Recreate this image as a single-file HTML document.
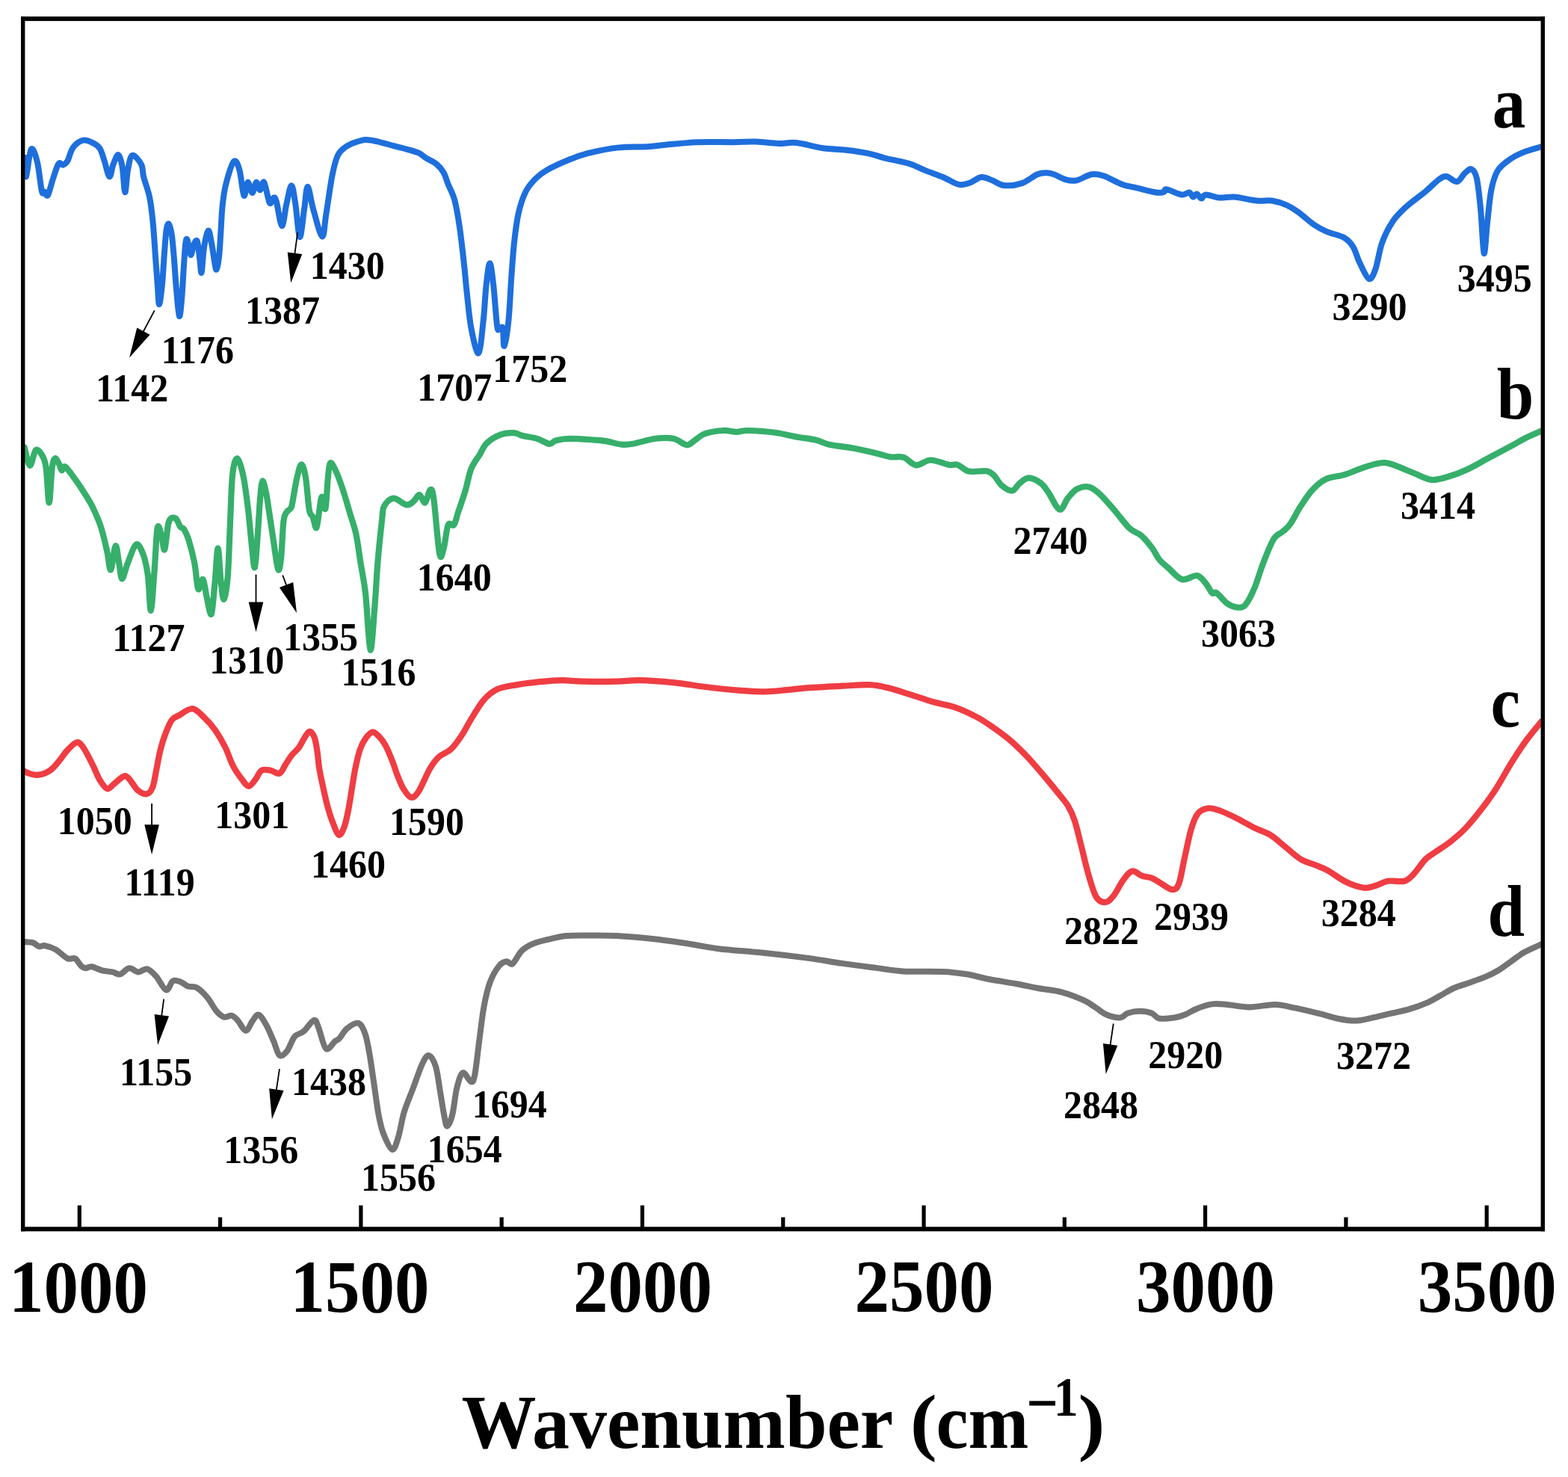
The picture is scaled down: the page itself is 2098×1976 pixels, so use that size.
<!DOCTYPE html>
<html><head><meta charset="utf-8"><title>FTIR spectra</title>
<style>html,body{margin:0;padding:0;background:#fff;}svg{display:block;}</style></head>
<body>
<svg width="2098" height="1976" viewBox="0 0 2098 1976">
<rect width="2098" height="1976" fill="#fff"/>
<path d="M33.5,210.9 C33.75,215.13 33.63,238.18 35,236.3 C36.37,234.42 39.22,202.85 41.7,199.6 C44.18,196.35 47.53,207.45 49.9,216.8 C52.27,226.15 54.28,249.08 55.9,255.7 C57.52,262.32 58.23,255.62 59.6,256.5 C60.97,257.38 62.22,263.87 64.1,261 C65.98,258.13 68.53,246.28 70.9,239.3 C73.27,232.32 76.07,222.22 78.3,219.1 C80.53,215.98 82.3,221.23 84.3,220.6 C86.3,219.97 88.05,219.17 90.3,215.3 C92.55,211.43 94.32,202 97.8,197.4 C101.28,192.8 106.72,188.7 111.2,187.7 C115.68,186.7 120.95,189.53 124.7,191.4 C128.45,193.27 131.2,194.92 133.7,198.9 C136.2,202.88 137.58,209.07 139.7,215.3 C141.82,221.53 144.42,235.55 146.4,236.3 C148.38,237.05 149.62,224.67 151.6,219.8 C153.58,214.93 156.3,206.6 158.3,207.1 C160.3,207.6 162.1,214.45 163.6,222.8 C165.1,231.15 166.05,256.45 167.3,257.2 C168.55,257.95 169.48,235.52 171.1,227.3 C172.72,219.08 174.02,209.15 177,207.9 C179.98,206.65 186.47,215 189,219.8 C191.53,224.6 190.35,229.38 192.2,236.7 C194.05,244.02 198.03,253.6 200.1,263.7 C202.17,273.8 203.3,284.22 204.6,297.3 C205.9,310.38 206.87,328.18 207.9,342.2 C208.93,356.22 209.95,370.57 210.8,381.4 C211.65,392.23 211.98,407.2 213,407.2 C214.02,407.2 215.78,392.23 216.9,381.4 C218.02,370.57 218.77,354.35 219.7,342.2 C220.63,330.05 221.47,315.6 222.5,308.5 C223.53,301.4 224.68,298.67 225.9,299.6 C227.12,300.53 228.68,307 229.8,314.1 C230.92,321.2 231.57,330.03 232.6,342.2 C233.63,354.37 234.78,373.63 236,387.1 C237.22,400.57 238.68,421.13 239.9,423 C241.12,424.87 242.27,409.9 243.3,398.3 C244.33,386.7 245.27,365.55 246.1,353.4 C246.93,341.25 247.55,330.82 248.3,325.4 C249.05,319.98 249.47,318.28 250.6,320.9 C251.73,323.52 253.6,340.17 255.1,341.1 C256.6,342.03 258.12,329.5 259.6,326.5 C261.08,323.5 262.7,319.55 264,323.1 C265.3,326.65 266.45,340.88 267.4,347.8 C268.35,354.72 268.77,367.4 269.7,364.6 C270.63,361.8 271.52,340.35 273,331 C274.48,321.65 276.92,309.43 278.6,308.5 C280.28,307.57 281.6,317.92 283.1,325.4 C284.6,332.88 286.48,347.62 287.6,353.4 C288.72,359.18 288.87,361.97 289.8,360.1 C290.73,358.23 292.25,350.8 293.2,342.2 C294.15,333.6 294.75,319.72 295.5,308.5 C296.25,297.28 296.58,285.18 297.7,274.9 C298.82,264.62 299.67,256.6 302.2,246.8 C304.73,237 309.87,219.35 312.9,216.1 C315.93,212.85 318.15,219.7 320.4,227.3 C322.65,234.9 324.53,258.95 326.4,261.7 C328.27,264.45 329.73,244.42 331.6,243.8 C333.47,243.18 335.73,258 337.6,258 C339.47,258 341.07,244.43 342.8,243.8 C344.53,243.17 346.25,254.2 348,254.2 C349.75,254.2 351.17,240.93 353.3,243.8 C355.43,246.67 358.68,267.92 360.8,271.4 C362.92,274.88 364.52,265.07 366,264.7 C367.48,264.33 367.83,262.97 369.7,269.2 C371.57,275.43 374.95,301.35 377.2,302.1 C379.45,302.85 381.08,282.68 383.2,273.7 C385.32,264.72 387.9,248.45 389.9,248.2 C391.9,247.95 393.33,260.73 395.2,272.2 C397.07,283.67 399.12,315.75 401.1,317 C403.08,318.25 405.35,290.92 407.1,279.7 C408.85,268.48 409.6,249.7 411.6,249.7 C413.6,249.7 415.87,268.6 419.1,279.7 C422.33,290.8 428.13,315.07 431,316.3 C433.87,317.53 434.05,300.68 436.3,287.1 C438.55,273.52 441.88,248 444.5,234.8 C447.12,221.6 449,214.27 452,207.9 C455,201.53 458.77,199.47 462.5,196.6 C466.23,193.73 469.92,192.32 474.4,190.7 C478.88,189.08 484.4,187.15 489.4,186.9 C494.4,186.65 498.17,187.83 504.4,189.2 C510.63,190.57 520.87,193.55 526.8,195.1 C532.73,196.65 534.6,196.98 540,198.5 C545.4,200.02 554.07,201.97 559.2,204.2 C564.33,206.43 566.63,209.33 570.8,211.9 C574.97,214.47 580.37,216.38 584.2,219.6 C588.03,222.82 591.23,226.72 593.8,231.2 C596.37,235.68 597.18,240.42 599.6,246.5 C602.02,252.58 605.73,258.08 608.3,267.7 C610.87,277.32 612.92,290.1 615,304.2 C617.08,318.3 619.2,337.87 620.8,352.3 C622.4,366.73 623,376.38 624.6,390.8 C626.2,405.22 627.8,425.18 630.4,438.8 C633,452.42 637.48,474.1 640.2,472.5 C642.92,470.9 644.97,444.42 646.7,429.2 C648.43,413.98 649.15,394.02 650.6,381.2 C652.05,368.38 653.8,352.3 655.4,352.3 C657,352.3 658.6,367.42 660.2,381.2 C661.8,394.98 663.72,425.07 665,435 C666.28,444.93 666.62,440.17 667.9,440.8 C669.18,441.43 671.58,435.12 672.7,438.8 C673.82,442.48 673.32,464.5 674.6,462.9 C675.88,461.3 678.8,444.43 680.4,429.2 C682,413.97 682.92,389.12 684.2,371.5 C685.48,353.88 686.5,337.92 688.1,323.5 C689.7,309.08 691.23,296.22 693.8,285 C696.37,273.78 699.65,263.9 703.5,256.2 C707.35,248.5 712.1,243.62 716.9,238.8 C721.7,233.98 724.92,231.47 732.3,227.3 C739.68,223.13 752.22,217.48 761.2,213.8 C770.18,210.12 776.72,207.73 786.2,205.2 C795.68,202.67 809.77,200 818.1,198.6 C826.43,197.2 828.15,197.2 836.2,196.8 C844.25,196.4 857.35,196.7 866.4,196.2 C875.45,195.7 879.43,194.8 890.5,193.8 C901.57,192.8 917.7,190.8 932.8,190.2 C947.9,189.6 968.02,190.3 981.1,190.2 C994.18,190.1 1001.23,189.3 1011.3,189.6 C1021.37,189.9 1032.45,191.75 1041.5,192 C1050.55,192.25 1055.55,190.05 1065.6,191.1 C1075.65,192.15 1090.73,196.7 1101.8,198.3 C1112.87,199.9 1121.93,199.53 1132,200.7 C1142.07,201.87 1153.65,203.53 1162.2,205.3 C1170.75,207.07 1174.25,209.03 1183.3,211.3 C1192.35,213.57 1207.43,216.13 1216.5,218.9 C1225.57,221.67 1230.15,224.88 1237.7,227.9 C1245.25,230.92 1254.25,233.83 1261.8,237 C1269.35,240.17 1276.97,245.65 1283,246.9 C1289.03,248.15 1292.98,246.15 1298,244.5 C1303.02,242.85 1308.07,237.5 1313.1,237 C1318.13,236.5 1323.17,239.65 1328.2,241.5 C1333.23,243.35 1336.75,247.5 1343.3,248.1 C1349.85,248.7 1360.05,247.57 1367.5,245.1 C1374.95,242.63 1382.57,235.6 1388,233.3 C1393.43,231 1396.4,231.3 1400.1,231.3 C1403.8,231.3 1405.83,231.78 1410.2,233.3 C1414.57,234.82 1421.27,239.05 1426.3,240.4 C1431.33,241.75 1434.7,242.58 1440.4,241.4 C1446.1,240.22 1454.47,234.32 1460.5,233.3 C1466.53,232.28 1469.9,233.12 1476.6,235.3 C1483.3,237.48 1493.33,243.72 1500.7,246.4 C1508.07,249.08 1513.08,249.55 1520.8,251.4 C1528.52,253.25 1540.95,256.58 1547,257.5 C1553.05,258.42 1554.75,257.58 1557.1,256.9 C1559.45,256.22 1557.08,252.8 1561.1,253.4 C1565.12,254 1576.17,259.82 1581.2,260.5 C1586.23,261.18 1588.78,257 1591.3,257.5 C1593.82,258 1594.63,263.17 1596.3,263.5 C1597.97,263.83 1599.45,259.17 1601.3,259.5 C1603.15,259.83 1605.38,265.33 1607.4,265.5 C1609.42,265.67 1609.38,260.67 1613.4,260.5 C1617.42,260.33 1625.13,264 1631.5,264.5 C1637.87,265 1643.22,262.83 1651.6,263.5 C1659.98,264.17 1673.42,267.67 1681.8,268.5 C1690.18,269.33 1695.2,267.48 1701.9,268.5 C1708.6,269.52 1715.97,271.92 1722,274.6 C1728.03,277.28 1732.17,280.33 1738.1,284.6 C1744.03,288.87 1751.42,295.98 1757.6,300.2 C1763.78,304.42 1768.45,306.97 1775.2,309.9 C1781.95,312.83 1792.23,314.43 1798.1,317.8 C1803.97,321.17 1806.88,324.52 1810.4,330.1 C1813.92,335.68 1815.67,344.15 1819.2,351.3 C1822.73,358.45 1828.07,371.53 1831.6,373 C1835.13,374.47 1837.47,368.12 1840.4,360.1 C1843.33,352.08 1845.4,335.47 1849.2,324.9 C1853,314.33 1857.93,304.63 1863.2,296.7 C1868.47,288.77 1873.45,284.05 1880.8,277.3 C1888.15,270.55 1899.95,262.35 1907.3,256.2 C1914.65,250.05 1920.22,243.77 1924.9,240.4 C1929.58,237.03 1931.3,235.57 1935.4,236 C1939.5,236.43 1945.38,243.75 1949.5,243 C1953.62,242.25 1956.87,234.28 1960.1,231.5 C1963.33,228.72 1966.27,225.12 1968.9,226.3 C1971.53,227.48 1973.85,229.52 1975.9,238.6 C1977.95,247.68 1979.58,264.07 1981.2,280.8 C1982.82,297.53 1984.13,336.05 1985.6,339 C1987.07,341.95 1988.38,312.6 1990,298.5 C1991.62,284.4 1992.95,266.15 1995.3,254.4 C1997.65,242.65 1999.7,235.03 2004.1,228 C2008.5,220.97 2015.83,216.3 2021.7,212.2 C2027.57,208.1 2032.55,206.05 2039.3,203.4 C2046.05,200.75 2058.38,197.48 2062.2,196.3" fill="none" stroke="#1e6fdc" stroke-width="8.0" stroke-linejoin="round" stroke-linecap="round"/>
<path d="M32.8,598.8 C34,602.82 37.47,622.35 40,622.9 C42.53,623.45 45.18,604.23 48,602.1 C50.82,599.97 54.62,606.1 56.9,610.1 C59.18,614.1 60.23,615.68 61.7,626.1 C63.17,636.52 64.37,672.6 65.7,672.6 C67.03,672.6 68.37,635.98 69.7,626.1 C71.03,616.22 72.1,614.1 73.7,613.3 C75.3,612.5 77.83,618.63 79.3,621.3 C80.77,623.97 81.17,628.77 82.5,629.3 C83.83,629.83 84.37,622.63 87.3,624.5 C90.23,626.37 95.82,634.63 100.1,640.5 C104.38,646.37 108.98,653.28 113,659.7 C117.02,666.12 120.47,671.25 124.2,679 C127.93,686.75 132.2,696.32 135.4,706.2 C138.6,716.08 141.27,728.95 143.4,738.3 C145.53,747.65 146.33,763.63 148.2,762.3 C150.07,760.97 152.73,731.63 154.6,730.3 C156.47,728.97 157.93,746.97 159.4,754.3 C160.87,761.63 161.53,774.3 163.4,774.3 C165.27,774.3 167.52,761.9 170.6,754.3 C173.68,746.7 178.42,730.83 181.9,728.7 C185.38,726.57 188.83,734.57 191.5,741.5 C194.17,748.43 196.17,757.75 197.9,770.3 C199.63,782.85 200.43,818.13 201.9,816.8 C203.37,815.47 205.23,780.73 206.7,762.3 C208.17,743.87 209.1,713.68 210.7,706.2 C212.3,698.72 214.7,712.58 216.3,717.4 C217.9,722.22 218.7,738.3 220.3,735.1 C221.9,731.9 223.5,705.15 225.9,698.2 C228.3,691.25 232.15,692.33 234.7,693.4 C237.25,694.47 239.32,702.2 241.2,704.6 C243.08,707 244.13,704.87 246,707.8 C247.87,710.73 250,714.45 252.4,722.2 C254.8,729.95 258.27,743.33 260.4,754.3 C262.53,765.27 263.33,784.53 265.2,788 C267.07,791.47 269.73,773.5 271.6,775.1 C273.47,776.7 274.53,789.85 276.4,797.6 C278.27,805.35 280.93,824.82 282.8,821.6 C284.67,818.38 286.13,792.98 287.6,778.3 C289.07,763.62 290.27,733.5 291.6,733.5 C292.93,733.5 294.27,766.95 295.6,778.3 C296.93,789.65 298.07,802.93 299.6,801.6 C301.13,800.27 303.4,787.53 304.8,770.3 C306.2,753.07 306.93,720.9 308,698.2 C309.07,675.5 309.6,648.25 311.2,634.1 C312.8,619.95 315.2,612.77 317.6,613.3 C320,613.83 323.18,625.82 325.6,637.3 C328.02,648.78 330.22,666.7 332.1,682.2 C333.98,697.7 335.43,717.48 336.9,730.3 C338.37,743.12 339.57,761.78 340.9,759.1 C342.23,756.42 343.7,729.68 344.9,714.2 C346.1,698.72 347.03,677.95 348.1,666.2 C349.17,654.45 349.97,644.78 351.3,643.7 C352.63,642.62 354.5,651.95 356.1,659.7 C357.7,667.45 359.3,679.78 360.9,690.2 C362.5,700.62 363.83,710.32 365.7,722.2 C367.57,734.08 370.37,757.48 372.1,761.5 C373.83,765.52 374.9,756.85 376.1,746.3 C377.3,735.75 378.1,708.35 379.3,698.2 C380.5,688.05 381.57,688.6 383.3,685.4 C385.03,682.2 388.1,682.73 389.7,679 C391.3,675.27 391.55,669.95 392.9,663 C394.25,656.05 396.05,644.25 397.8,637.3 C399.55,630.35 401.53,621.03 403.4,621.3 C405.27,621.57 407.27,628.75 409,638.9 C410.73,649.05 412.2,673.38 413.8,682.2 C415.4,691.02 417,687.8 418.6,691.8 C420.2,695.8 421.93,707.8 423.4,706.2 C424.87,704.6 426.2,689.13 427.4,682.2 C428.6,675.27 429.27,664.87 430.6,664.6 C431.93,664.33 434.07,684.35 435.4,680.6 C436.73,676.85 437.53,652.25 438.6,642.1 C439.67,631.95 440.07,621.83 441.8,619.7 C443.53,617.57 446.18,623.43 449,629.3 C451.82,635.17 455.48,645.28 458.7,654.9 C461.92,664.52 465.37,677.12 468.3,687 C471.23,696.88 473.9,702.98 476.3,714.2 C478.7,725.42 480.57,740.93 482.7,754.3 C484.83,767.67 486.97,775.2 489.1,794.4 C491.23,813.6 493.43,866.9 495.5,869.5 C497.57,872.1 499.85,829.53 501.5,810 C503.15,790.47 503.78,771.53 505.4,752.3 C507.02,733.07 509.77,707.1 511.2,694.6 C512.63,682.1 511.45,681.95 514,677.3 C516.55,672.65 521.53,667.02 526.5,666.7 C531.47,666.38 539.3,674.75 543.8,675.4 C548.3,676.05 550.6,672.85 553.5,670.6 C556.4,668.35 558.65,661.58 561.2,661.9 C563.75,662.22 566.4,673.62 568.8,672.5 C571.2,671.38 573.67,656 575.6,655.2 C577.53,654.4 578.32,653.43 580.4,667.7 C582.48,681.97 585.87,729.9 588.1,740.8 C590.33,751.7 591.88,739.52 593.8,733.1 C595.72,726.68 597.35,707.43 599.6,702.3 C601.85,697.17 605.05,705.18 607.3,702.3 C609.55,699.42 610.53,692.68 613.1,685 C615.67,677.32 619.82,665.82 622.7,656.2 C625.58,646.58 627.2,635.32 630.4,627.3 C633.6,619.28 638.38,613.87 641.9,608.1 C645.42,602.33 646.68,597.18 651.5,592.7 C656.32,588.22 664.7,583.45 670.8,581.2 C676.9,578.95 683.3,578.88 688.1,579.2 C692.9,579.52 694.48,581.82 699.6,583.1 C704.72,584.38 712.88,585.12 718.8,586.9 C724.72,588.68 730.88,593.42 735.1,593.8 C739.32,594.18 739.57,590.37 744.1,589.2 C748.63,588.03 753.73,586.9 762.3,586.8 C770.87,586.7 787.45,588.05 795.5,588.6 C803.55,589.15 804.57,589.08 810.6,590.1 C816.63,591.12 825.67,594.08 831.7,594.7 C837.73,595.32 839.25,595.12 846.8,593.8 C854.35,592.48 867.95,587.97 877,586.8 C886.05,585.63 894.07,585.38 901.1,586.8 C908.13,588.22 914.17,595.15 919.2,595.3 C924.23,595.45 927.27,590.22 931.3,587.7 C935.33,585.18 937.37,582.15 943.4,580.2 C949.43,578.25 960.47,576.4 967.5,576 C974.53,575.6 980.07,577.8 985.6,577.8 C991.13,577.8 992.15,575.85 1000.7,576 C1009.25,576.15 1025.83,577.25 1036.9,578.7 C1047.97,580.15 1058.03,583.05 1067.1,584.7 C1076.17,586.35 1084.25,586.93 1091.3,588.6 C1098.35,590.27 1100.85,592.83 1109.4,594.7 C1117.95,596.57 1132.05,597.85 1142.6,599.8 C1153.15,601.75 1164.65,604.48 1172.7,606.4 C1180.75,608.32 1184.85,610.38 1190.9,611.3 C1196.95,612.22 1203.22,610.05 1209,611.9 C1214.78,613.75 1219.57,621.8 1225.6,622.4 C1231.63,623 1237.9,615.6 1245.2,615.5 C1252.5,615.4 1263.37,620.75 1269.4,621.8 C1275.43,622.85 1276.88,620.33 1281.4,621.8 C1285.92,623.27 1290.05,629.18 1296.5,630.6 C1302.95,632.02 1314.48,629.35 1320.1,630.3 C1325.72,631.25 1326.85,633.12 1330.2,636.3 C1333.55,639.48 1336.18,646.03 1340.2,649.4 C1344.22,652.77 1350.27,657 1354.3,656.5 C1358.33,656 1360.7,649.25 1364.4,646.4 C1368.1,643.55 1371.8,639.4 1376.5,639.4 C1381.2,639.4 1388.25,643.22 1392.6,646.4 C1396.95,649.58 1398.42,652.63 1402.6,658.5 C1406.78,664.37 1413.33,680.27 1417.7,681.6 C1422.07,682.93 1424.95,671.03 1428.8,666.5 C1432.65,661.97 1436.12,656.92 1440.8,654.4 C1445.48,651.88 1451.87,650.38 1456.9,651.4 C1461.93,652.42 1465.3,655.3 1471,660.5 C1476.7,665.7 1484.38,674.88 1491.1,682.6 C1497.82,690.32 1505.25,701.1 1511.3,706.8 C1517.35,712.5 1522.38,712.45 1527.4,716.8 C1532.42,721.15 1537.38,727.53 1541.4,732.9 C1545.42,738.27 1547.8,744.47 1551.5,749 C1555.2,753.53 1558.57,755.73 1563.6,760.1 C1568.63,764.47 1575.33,773.53 1581.7,775.2 C1588.07,776.87 1596.43,769.1 1601.8,770.1 C1607.17,771.1 1610.55,777.33 1613.9,781.2 C1617.25,785.07 1619.55,791.28 1621.9,793.3 C1624.25,795.32 1624.63,790.95 1628,793.3 C1631.37,795.65 1637.6,804.2 1642.1,807.4 C1646.6,810.6 1650.98,812.17 1655,812.5 C1659.02,812.83 1662.32,813.62 1666.2,809.4 C1670.08,805.18 1674.28,796.6 1678.3,787.2 C1682.32,777.8 1686,763.98 1690.3,753 C1694.6,742.02 1699.78,728.25 1704.1,721.3 C1708.42,714.35 1712.5,714.65 1716.2,711.3 C1719.9,707.95 1722.27,706.9 1726.3,701.2 C1730.33,695.5 1735.37,684.82 1740.4,677.1 C1745.43,669.38 1750.8,660.95 1756.5,654.9 C1762.2,648.85 1767.57,644.08 1774.6,640.8 C1781.63,637.52 1791,637.53 1798.7,635.2 C1806.4,632.87 1813.08,629.38 1820.8,626.8 C1828.52,624.22 1838.28,620.72 1845,619.7 C1851.72,618.68 1853.38,618.52 1861.1,620.7 C1868.82,622.88 1882.25,629.27 1891.3,632.8 C1900.35,636.33 1907.7,641.07 1915.4,641.9 C1923.1,642.73 1929.78,639.98 1937.5,637.8 C1945.22,635.62 1952.63,632.98 1961.7,628.8 C1970.77,624.62 1981.83,618.07 1991.9,612.7 C2001.97,607.33 2013.72,601.13 2022.1,596.6 C2030.48,592.07 2035.5,588.85 2042.2,585.5 C2048.9,582.15 2058.95,578 2062.3,576.5" fill="none" stroke="#36af6b" stroke-width="8.2" stroke-linejoin="round" stroke-linecap="round"/>
<path d="M32,1031.6 C33.35,1032.18 37.08,1034.23 40.1,1035.1 C43.12,1035.97 46.75,1036.88 50.1,1036.8 C53.45,1036.72 56.85,1036.05 60.2,1034.6 C63.55,1033.15 66.85,1031.12 70.2,1028.1 C73.55,1025.08 76.93,1020.62 80.3,1016.5 C83.67,1012.38 86.72,1007.25 90.4,1003.4 C94.08,999.55 99.22,994.4 102.4,993.4 C105.58,992.4 106.98,994.55 109.5,997.4 C112.02,1000.25 114.82,1005.63 117.5,1010.5 C120.18,1015.37 122.92,1021.07 125.6,1026.6 C128.28,1032.13 130.58,1038.92 133.6,1043.7 C136.62,1048.48 140.35,1054.63 143.7,1055.3 C147.05,1055.97 149.85,1050.57 153.7,1047.7 C157.55,1044.83 163.27,1038.6 166.8,1038.1 C170.33,1037.6 172.05,1041.58 174.9,1044.7 C177.75,1047.82 180.38,1053.87 183.9,1056.8 C187.42,1059.73 192.65,1062.82 196,1062.3 C199.35,1061.78 201.82,1058.98 204,1053.7 C206.18,1048.42 207.42,1038.63 209.1,1030.6 C210.78,1022.57 212.1,1013.55 214.1,1005.5 C216.1,997.45 218.45,989.35 221.1,982.3 C223.75,975.25 226.97,967.38 230,963.2 C233.03,959.02 234.73,959.7 239.3,957.2 C243.87,954.7 251.7,947.7 257.4,948.2 C263.1,948.7 268.47,955.52 273.5,960.2 C278.53,964.88 282.9,969.58 287.6,976.3 C292.3,983.02 297.67,992.45 301.7,1000.5 C305.73,1008.55 308.12,1017.57 311.8,1024.6 C315.48,1031.63 320.28,1038.17 323.8,1042.7 C327.32,1047.23 329.88,1051.8 332.9,1051.8 C335.92,1051.8 339.05,1046.22 341.9,1042.7 C344.75,1039.18 346.63,1032.7 350,1030.7 C353.37,1028.7 358.08,1030.03 362.1,1030.7 C366.12,1031.37 370.75,1036.05 374.1,1034.7 C377.45,1033.35 379.52,1026.63 382.2,1022.6 C384.88,1018.57 387.23,1014.27 390.2,1010.5 C393.17,1006.73 397.15,1003.88 400,1000 C402.85,996.12 404.88,990.77 407.3,987.2 C409.72,983.63 412.23,978.6 414.5,978.6 C416.77,978.6 419.23,982.73 420.9,987.2 C422.57,991.67 423.45,998.58 424.5,1005.4 C425.55,1012.22 425.98,1020.53 427.2,1028.1 C428.42,1035.67 429.98,1042.47 431.8,1050.8 C433.62,1059.13 435.83,1069.77 438.1,1078.1 C440.37,1086.43 442.82,1094.3 445.4,1100.8 C447.98,1107.3 451.02,1116.35 453.6,1117.1 C456.18,1117.85 458.78,1111.05 460.9,1105.3 C463.02,1099.55 464.65,1090.92 466.3,1082.6 C467.95,1074.28 469.28,1064.48 470.8,1055.4 C472.32,1046.32 473.58,1036.88 475.4,1028.1 C477.22,1019.32 479.43,1009.35 481.7,1002.7 C483.97,996.05 486.27,992.07 489,988.2 C491.73,984.33 495.07,979.97 498.1,979.5 C501.13,979.03 504.17,982.3 507.2,985.4 C510.23,988.5 513.28,992.5 516.3,998.1 C519.32,1003.7 522.73,1012.48 525.3,1019 C527.87,1025.52 529.27,1031.13 531.7,1037.2 C534.13,1043.27 536.87,1050.48 539.9,1055.4 C542.93,1060.32 546.55,1066.1 549.9,1066.7 C553.25,1067.3 555.82,1065.32 560,1059 C564.18,1052.68 570.48,1036.52 575,1028.8 C579.52,1021.08 582.4,1017.07 587.1,1012.7 C591.8,1008.33 598.17,1007.3 603.2,1002.6 C608.23,997.9 612.6,991.53 617.3,984.5 C622,977.47 626.37,968.45 631.4,960.4 C636.43,952.35 641.8,942.58 647.5,936.2 C653.2,929.82 658.22,925.45 665.6,922.1 C672.98,918.75 682.42,917.77 691.8,916.1 C701.18,914.43 711.85,913.1 721.9,912.1 C731.95,911.1 742.42,910.17 752.1,910.1 C761.78,910.03 767.8,911.43 780,911.7 C792.2,911.97 812.72,911.95 825.3,911.7 C837.88,911.45 842.93,909.95 855.5,910.2 C868.07,910.45 885.62,911.7 900.7,913.2 C915.78,914.7 930.9,917.43 946,919.2 C961.1,920.97 978.72,922.78 991.3,923.8 C1003.88,924.82 1011.43,925.4 1021.5,925.3 C1031.57,925.2 1041.65,924.07 1051.7,923.2 C1061.75,922.33 1069.23,921.02 1081.8,920.1 C1094.37,919.18 1113.52,918.35 1127.1,917.7 C1140.68,917.05 1153.23,915.8 1163.3,916.2 C1173.37,916.6 1178.43,917.93 1187.5,920.1 C1196.57,922.27 1207.63,926.07 1217.7,929.2 C1227.77,932.33 1237.85,936.03 1247.9,938.9 C1257.95,941.77 1267.95,942.88 1278,946.4 C1288.05,949.92 1299.63,955.47 1308.2,960 C1316.77,964.53 1322.85,969.1 1329.4,973.6 C1335.95,978.1 1342.72,983.23 1347.5,987 C1352.28,990.77 1353.32,991.65 1358.1,996.2 C1362.88,1000.75 1369.25,1006.75 1376.2,1014.3 C1383.15,1021.85 1393.15,1033.65 1399.8,1041.5 C1406.45,1049.35 1411.28,1055.37 1416.1,1061.4 C1420.92,1067.43 1425.08,1071.67 1428.7,1077.7 C1432.32,1083.73 1434.78,1088.55 1437.8,1097.6 C1440.82,1106.65 1443.78,1120.22 1446.8,1132 C1449.82,1143.78 1452.57,1156.97 1455.9,1168.3 C1459.23,1179.63 1462.88,1193.55 1466.8,1200 C1470.72,1206.45 1475.48,1207.33 1479.4,1207 C1483.32,1206.67 1486.37,1202.95 1490.3,1198 C1494.23,1193.05 1498.92,1182.72 1503,1177.3 C1507.08,1171.88 1510.58,1166.4 1514.8,1165.5 C1519.02,1164.6 1523.93,1170.38 1528.3,1171.9 C1532.67,1173.42 1537.07,1173.1 1541,1174.6 C1544.93,1176.1 1547.37,1178.33 1551.9,1180.9 C1556.43,1183.47 1563.98,1189.72 1568.2,1190 C1572.42,1190.28 1574.48,1189.25 1577.2,1182.6 C1579.92,1175.95 1581.78,1162.15 1584.5,1150.1 C1587.22,1138.05 1590.48,1120.55 1593.5,1110.3 C1596.52,1100.05 1598.67,1093.43 1602.6,1088.6 C1606.53,1083.77 1611.97,1081.9 1617.1,1081.3 C1622.23,1080.7 1626.77,1082.58 1633.4,1085 C1640.03,1087.42 1649.37,1092.03 1656.9,1095.8 C1664.43,1099.57 1671.4,1104.02 1678.6,1107.6 C1685.8,1111.18 1693.17,1113 1700.1,1117.3 C1707.03,1121.6 1713.48,1128.03 1720.2,1133.4 C1726.92,1138.77 1733.68,1145.48 1740.4,1149.5 C1747.12,1153.52 1754.47,1154.98 1760.5,1157.5 C1766.53,1160.02 1769.9,1160.9 1776.6,1164.6 C1783.3,1168.3 1792.65,1175.85 1800.7,1179.7 C1808.75,1183.55 1818.18,1186.87 1824.9,1187.7 C1831.62,1188.53 1835.63,1186.2 1841,1184.7 C1846.37,1183.2 1850.73,1179.7 1857.1,1178.7 C1863.47,1177.7 1873.5,1180.22 1879.2,1178.7 C1884.9,1177.18 1886.6,1174.47 1891.3,1169.6 C1896,1164.73 1902.38,1154.53 1907.4,1149.5 C1912.42,1144.47 1915.7,1143.42 1921.4,1139.4 C1927.1,1135.38 1934.88,1130.77 1941.6,1125.4 C1948.32,1120.03 1955,1114.25 1961.7,1107.2 C1968.4,1100.15 1975.1,1091.82 1981.8,1083.1 C1988.5,1074.38 1995.18,1065.3 2001.9,1054.9 C2008.62,1044.5 2015.38,1031.43 2022.1,1020.7 C2028.82,1009.97 2035.5,999.72 2042.2,990.5 C2048.9,981.28 2058.95,969.58 2062.3,965.4" fill="none" stroke="#ef3d43" stroke-width="8.2" stroke-linejoin="round" stroke-linecap="round"/>
<path d="M32.1,1260.1 C34.1,1260.27 40.75,1260.08 44.1,1261.1 C47.45,1262.12 49.52,1265.52 52.2,1266.2 C54.88,1266.88 56.52,1264.53 60.2,1265.2 C63.88,1265.87 69.27,1267.35 74.3,1270.2 C79.33,1273.05 86.03,1280.28 90.4,1282.3 C94.77,1284.32 97.48,1280.63 100.5,1282.3 C103.52,1283.97 106.15,1290.13 108.5,1292.3 C110.85,1294.47 112.25,1295.13 114.6,1295.3 C116.95,1295.47 118.92,1292.78 122.6,1293.3 C126.28,1293.82 132,1297.22 136.7,1298.4 C141.4,1299.58 146.78,1299.57 150.8,1300.4 C154.82,1301.23 157.12,1304.25 160.8,1303.4 C164.48,1302.55 168.87,1295.8 172.9,1295.3 C176.93,1294.8 180.97,1300.23 185,1300.4 C189.03,1300.57 193.08,1295.3 197.1,1296.3 C201.12,1297.3 204.92,1301.7 209.1,1306.4 C213.28,1311.1 218.5,1323.5 222.2,1324.5 C225.9,1325.5 228.12,1314.25 231.3,1312.4 C234.48,1310.55 237.95,1312.22 241.3,1313.4 C244.65,1314.58 247.7,1318.15 251.4,1319.5 C255.1,1320.85 259.15,1318.98 263.5,1321.5 C267.85,1324.02 273.15,1329.4 277.5,1334.6 C281.85,1339.8 285.9,1348.35 289.6,1352.7 C293.3,1357.05 296.35,1359.7 299.7,1360.7 C303.05,1361.7 306.68,1358.03 309.7,1358.7 C312.72,1359.37 314.6,1361.35 317.8,1364.7 C321,1368.05 325.55,1378.62 328.9,1378.8 C332.25,1378.98 335.05,1369.32 337.9,1365.8 C340.75,1362.28 342.98,1356.87 346,1357.7 C349.02,1358.53 352.65,1364.93 356,1370.8 C359.35,1376.67 363.08,1386.03 366.1,1392.9 C369.12,1399.77 371.08,1409.82 374.1,1412 C377.12,1414.18 380.85,1410.18 384.2,1406 C387.55,1401.82 390.52,1391.27 394.2,1386.9 C397.88,1382.53 401.98,1383.48 406.3,1379.8 C410.62,1376.12 416.78,1365.62 420.1,1364.8 C423.42,1363.98 423.52,1368.53 426.2,1374.9 C428.88,1381.27 432.52,1399.98 436.2,1403 C439.88,1406.02 445.28,1395.33 448.3,1393 C451.32,1390.67 451.62,1391.85 454.3,1389 C456.98,1386.15 460.2,1379.27 464.4,1375.9 C468.6,1372.53 475.48,1367.63 479.5,1368.8 C483.52,1369.97 485.98,1375.85 488.5,1382.9 C491.02,1389.95 492.58,1399.7 494.6,1411.1 C496.62,1422.5 498.6,1437.88 500.6,1451.3 C502.6,1464.72 504.58,1480.87 506.6,1491.6 C508.62,1502.33 509.68,1508 512.7,1515.7 C515.72,1523.4 521.35,1536.78 524.7,1537.8 C528.05,1538.82 530.12,1530.18 532.8,1521.8 C535.48,1513.42 537.45,1498.57 540.8,1487.5 C544.15,1476.43 548.87,1466.12 552.9,1455.4 C556.93,1444.68 561.48,1430.42 565,1423.2 C568.52,1415.98 570.98,1411.43 574,1412.1 C577.02,1412.77 580.58,1418.98 583.1,1427.2 C585.62,1435.42 587.25,1450.67 589.1,1461.4 C590.95,1472.13 592.68,1484.05 594.2,1491.6 C595.72,1499.15 596.37,1506.7 598.2,1506.7 C600.03,1506.7 603.02,1500.15 605.2,1491.6 C607.38,1483.05 608.95,1464.8 611.3,1455.4 C613.65,1446 616.12,1436.55 619.3,1435.2 C622.48,1433.85 627.72,1446.97 630.4,1447.3 C633.08,1447.63 633.57,1446.58 635.4,1437.2 C637.23,1427.82 639.38,1406.08 641.4,1391 C643.42,1375.92 645.15,1359.45 647.5,1346.7 C649.85,1333.95 652.15,1323.55 655.5,1314.5 C658.85,1305.45 663.9,1297.1 667.6,1292.4 C671.3,1287.7 674.68,1286.8 677.7,1286.3 C680.72,1285.8 682.35,1291.73 685.7,1289.4 C689.05,1287.07 693.43,1276.67 697.8,1272.3 C702.17,1267.93 706.2,1265.72 711.9,1263.2 C717.6,1260.68 724.3,1259.05 732,1257.2 C739.7,1255.35 748.43,1253.05 758.1,1252.1 C767.77,1251.15 778.8,1251.52 790,1251.5 C801.2,1251.48 811.87,1251.3 825.3,1252 C838.73,1252.7 855.52,1254.08 870.6,1255.7 C885.68,1257.32 900.72,1259.45 915.8,1261.7 C930.88,1263.95 943.48,1267.03 961.1,1269.2 C978.72,1271.37 1001.38,1272.58 1021.5,1274.7 C1041.62,1276.82 1064.2,1279.53 1081.8,1281.9 C1099.4,1284.27 1112,1286.73 1127.1,1288.9 C1142.2,1291.07 1158.82,1293.15 1172.4,1294.9 C1185.98,1296.65 1193.52,1298.55 1208.6,1299.4 C1223.68,1300.25 1248.82,1299.35 1262.9,1300 C1276.98,1300.65 1283.03,1301.63 1293.1,1303.3 C1303.17,1304.97 1312.15,1307.85 1323.3,1310 C1334.45,1312.15 1348.85,1314.15 1360,1316.2 C1371.15,1318.25 1380.13,1320.45 1390.2,1322.3 C1400.27,1324.15 1410.35,1324.62 1420.4,1327.3 C1430.45,1329.98 1442.8,1334.88 1450.5,1338.4 C1458.2,1341.92 1461.57,1345.22 1466.6,1348.4 C1471.63,1351.58 1475.33,1355.32 1480.7,1357.5 C1486.07,1359.68 1494.1,1361.83 1498.8,1361.5 C1503.5,1361.17 1504.53,1356.95 1508.9,1355.5 C1513.27,1354.05 1519.63,1352.8 1525,1352.8 C1530.37,1352.8 1536.75,1353.88 1541.1,1355.5 C1545.45,1357.12 1546.07,1361.5 1551.1,1362.5 C1556.13,1363.5 1565.58,1362.33 1571.3,1361.5 C1577.02,1360.67 1580.38,1359.52 1585.4,1357.5 C1590.42,1355.48 1595.37,1351.75 1601.4,1349.4 C1607.43,1347.05 1614.88,1344.3 1621.6,1343.4 C1628.32,1342.5 1633.32,1343.33 1641.7,1344 C1650.08,1344.67 1661.17,1347.4 1671.9,1347.4 C1682.63,1347.4 1696.05,1343.83 1706.1,1344 C1716.15,1344.17 1722.27,1346.37 1732.2,1348.4 C1742.13,1350.43 1755.85,1353.77 1765.7,1356.2 C1775.55,1358.63 1783.33,1361.43 1791.3,1363 C1799.27,1364.57 1806.37,1365.75 1813.5,1365.6 C1820.63,1365.45 1826.4,1363.67 1834.1,1362.1 C1841.8,1360.53 1851.15,1358.18 1859.7,1356.2 C1868.25,1354.22 1876.85,1352.77 1885.4,1350.2 C1893.95,1347.63 1903.88,1343.93 1911,1340.8 C1918.12,1337.67 1922.4,1334.53 1928.1,1331.4 C1933.8,1328.27 1939.5,1324.57 1945.2,1322 C1950.9,1319.43 1955.17,1318.57 1962.3,1316 C1969.43,1313.43 1980.87,1309.6 1988,1306.6 C1995.13,1303.6 1999.4,1301.43 2005.1,1298 C2010.8,1294.57 2016.5,1289.98 2022.2,1286 C2027.9,1282.02 2032.47,1277.95 2039.3,1274.1 C2046.13,1270.25 2059.22,1264.77 2063.2,1262.9" fill="none" stroke="#747474" stroke-width="8.0" stroke-linejoin="round" stroke-linecap="round"/>
<g fill="#000">
<rect x="28" y="22.1" width="5.4" height="1625.2"/>
<rect x="2061.6" y="22.1" width="5.4" height="1625.2"/>
<rect x="28" y="22.1" width="2039" height="6"/>
<rect x="28" y="1641.3" width="2039" height="6"/>
<rect x="103.7" y="1612.6" width="5.2" height="31.7"/>
<rect x="291.99" y="1628.5" width="5.2" height="15.8"/>
<rect x="480.28" y="1612.6" width="5.2" height="31.7"/>
<rect x="668.57" y="1628.5" width="5.2" height="15.8"/>
<rect x="856.86" y="1612.6" width="5.2" height="31.7"/>
<rect x="1045.15" y="1628.5" width="5.2" height="15.8"/>
<rect x="1233.44" y="1612.6" width="5.2" height="31.7"/>
<rect x="1421.73" y="1628.5" width="5.2" height="15.8"/>
<rect x="1610.02" y="1612.6" width="5.2" height="31.7"/>
<rect x="1798.31" y="1628.5" width="5.2" height="15.8"/>
<rect x="1986.6" y="1612.6" width="5.2" height="31.7"/>
</g>
<g fill="#000" stroke="none">
<line x1="206.8" y1="415.4" x2="191" y2="444.98" stroke="#000" stroke-width="1.8"/>
<polygon points="173.1,478.5 183.3,438.6 200.59,447.83"/>
<line x1="398.2" y1="311" x2="394.23" y2="340.73" stroke="#000" stroke-width="1.8"/>
<polygon points="389.2,378.4 384.78,337.45 404.21,340.05"/>
<line x1="342.5" y1="768.7" x2="342.5" y2="807.6" stroke="#000" stroke-width="1.8"/>
<polygon points="342.5,845.6 332.7,805.6 352.3,805.6"/>
<line x1="378.2" y1="769.5" x2="383.74" y2="784.39" stroke="#000" stroke-width="1.8"/>
<polygon points="397,820 373.86,785.93 392.23,779.09"/>
<line x1="203.1" y1="1074.9" x2="203.1" y2="1105.3" stroke="#000" stroke-width="1.8"/>
<polygon points="203.1,1143.3 193.3,1103.3 212.9,1103.3"/>
<line x1="219.2" y1="1336.6" x2="216.08" y2="1360.23" stroke="#000" stroke-width="1.8"/>
<polygon points="211.1,1397.9 206.62,1356.96 226.06,1359.53"/>
<line x1="374" y1="1430.1" x2="369.56" y2="1459.62" stroke="#000" stroke-width="1.8"/>
<polygon points="363.9,1497.2 360.16,1456.19 379.54,1459.1"/>
<line x1="1489.8" y1="1369.5" x2="1485.33" y2="1399.32" stroke="#000" stroke-width="1.8"/>
<polygon points="1479.7,1436.9 1475.94,1395.89 1495.32,1398.79"/>
</g>
<g font-family="Liberation Serif, Times New Roman, serif" font-weight="bold" fill="#000">
<text transform="matrix(0.5 0 0 0.52 128 537.18)" font-size="100">1142</text>
<text transform="matrix(0.5 0 0 0.52 215.75 485.77)" font-size="100">1176</text>
<text transform="matrix(0.5 0 0 0.52 327.95 432.82)" font-size="100">1387</text>
<text transform="matrix(0.5 0 0 0.52 414.8 372.97)" font-size="100">1430</text>
<text transform="matrix(0.5 0 0 0.52 558.2 535.77)" font-size="100">1707</text>
<text transform="matrix(0.5 0 0 0.52 659.2 510.93)" font-size="100">1752</text>
<text transform="matrix(0.5 0 0 0.52 1782.4 427.61)" font-size="100">3290</text>
<text transform="matrix(0.5 0 0 0.52 1949.7 389.71)" font-size="100">3495</text>
<text transform="matrix(0.5 0 0 0.52 150.2 871.28)" font-size="100">1127</text>
<text transform="matrix(0.5 0 0 0.52 280.2 900.57)" font-size="100">1310</text>
<text transform="matrix(0.5 0 0 0.52 378.95 870.47)" font-size="100">1355</text>
<text transform="matrix(0.5 0 0 0.52 456.4 917.47)" font-size="100">1516</text>
<text transform="matrix(0.5 0 0 0.52 557.75 789.67)" font-size="100">1640</text>
<text transform="matrix(0.5 0 0 0.52 1355.6 740.81)" font-size="100">2740</text>
<text transform="matrix(0.5 0 0 0.52 1607.05 865.31)" font-size="100">3063</text>
<text transform="matrix(0.5 0 0 0.52 1874 694.27)" font-size="100">3414</text>
<text transform="matrix(0.5 0 0 0.52 76.65 1115.77)" font-size="100">1050</text>
<text transform="matrix(0.5 0 0 0.52 166.4 1197.92)" font-size="100">1119</text>
<text transform="matrix(0.5 0 0 0.52 287.15 1108.17)" font-size="100">1301</text>
<text transform="matrix(0.5 0 0 0.52 415.9 1173.67)" font-size="100">1460</text>
<text transform="matrix(0.5 0 0 0.52 521 1117.37)" font-size="100">1590</text>
<text transform="matrix(0.5 0 0 0.52 1424 1263.41)" font-size="100">2822</text>
<text transform="matrix(0.5 0 0 0.52 1543.95 1244.41)" font-size="100">2939</text>
<text transform="matrix(0.5 0 0 0.52 1767.75 1238.76)" font-size="100">3284</text>
<text transform="matrix(0.5 0 0 0.52 159.9 1451.63)" font-size="100">1155</text>
<text transform="matrix(0.5 0 0 0.52 299.2 1555.57)" font-size="100">1356</text>
<text transform="matrix(0.5 0 0 0.52 390.05 1465.27)" font-size="100">1438</text>
<text transform="matrix(0.5 0 0 0.52 483.05 1593.27)" font-size="100">1556</text>
<text transform="matrix(0.5 0 0 0.52 571.85 1554.52)" font-size="100">1654</text>
<text transform="matrix(0.5 0 0 0.52 631.7 1495.17)" font-size="100">1694</text>
<text transform="matrix(0.5 0 0 0.52 1422.95 1496.11)" font-size="100">2848</text>
<text transform="matrix(0.5 0 0 0.52 1536.35 1428.71)" font-size="100">2920</text>
<text transform="matrix(0.5 0 0 0.52 1787.9 1430.26)" font-size="100">3272</text>
<text transform="matrix(0.89 0 0 0.97 1996.81 169.98)" font-size="100">a</text>
<text transform="matrix(0.89 0 0 0.97 2002.76 560.2)" font-size="100">b</text>
<text transform="matrix(0.89 0 0 0.97 1994.47 971.72)" font-size="100">c</text>
<text transform="matrix(0.89 0 0 0.97 1990.39 1252.05)" font-size="100">d</text>
<text transform="matrix(0.93 0 0 1 11.95 1754.63)" font-size="100">1000</text>
<text transform="matrix(0.93 0 0 1 388.53 1754.63)" font-size="100">1500</text>
<text transform="matrix(0.93 0 0 1 766.96 1753.62)" font-size="100">2000</text>
<text transform="matrix(0.93 0 0 1 1143.54 1753.62)" font-size="100">2500</text>
<text transform="matrix(0.93 0 0 1 1520.12 1753.62)" font-size="100">3000</text>
<text transform="matrix(0.93 0 0 1 1896.7 1753.62)" font-size="100">3500</text>
<text transform="matrix(1 0 0 1.02 617.5 1937.27)" font-size="100">Wavenumber</text>
<text transform="matrix(1.08 0 0 0.99 1217.86 1935.16)" font-size="100">(</text>
<text transform="matrix(0.97 0 0 1.03 1252.39 1937.47)" font-size="100">cm</text>
<text transform="matrix(0.75 0 0 0.89 1373.36 1906.77)" font-size="100">−</text>
<text transform="matrix(0.66 0 0 0.73 1409.68 1894.3)" font-size="100">1</text>
<text transform="matrix(1.08 0 0 0.99 1442.55 1935.16)" font-size="100">)</text>
</g>
</svg>
</body></html>
